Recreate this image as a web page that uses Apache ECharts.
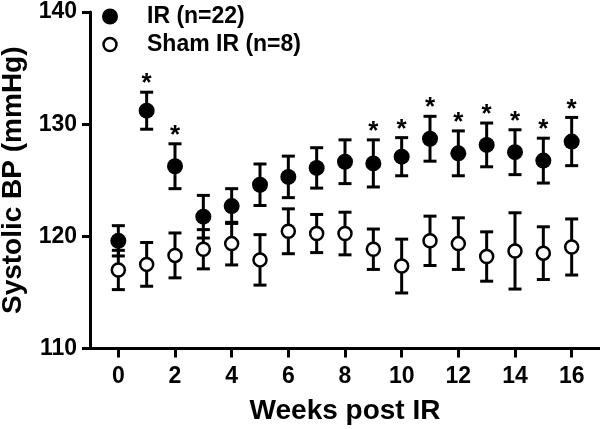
<!DOCTYPE html>
<html>
<head>
<meta charset="utf-8">
<script src="https://cdn.jsdelivr.net/npm/echarts@6/dist/echarts.min.js"></script>
<style>
html,body{margin:0;padding:0;background:#fff;}
#chart{width:600px;height:429px;}
</style>
</head>
<body>
<div id="chart"></div>
<script>
const weeks = [0,1,2,3,4,5,6,7,8,9,10,11,12,13,14,15,16];
const xTicks = [0,2,4,6,8,10,12,14,16];
const yTicks = [110,120,130,140];
const irName = 'IR (n=22)';
const shamName = 'Sham IR (n=8)';
const irMean = [119.6,131.2,126.25,121.75,122.7,124.6,125.3,126.1,126.65,126.5,127.1,128.7,127.4,128.15,127.5,126.75,128.45];
const irSem  = [1.35,1.65,2.0,1.9,1.55,1.85,1.85,1.8,1.95,2.1,1.7,2.0,2.0,1.95,2.0,2.0,2.15];
const irSig  = [0,1,1,0,0,0,0,0,0,1,1,1,1,1,1,1,1];
const shamMean = [117.0,117.5,118.3,118.85,119.35,117.9,120.45,120.25,120.25,118.85,117.35,119.6,119.35,118.2,118.7,118.5,119.05];
const shamSem  = [1.75,1.95,2.0,1.75,1.9,2.25,2.0,1.7,1.9,1.8,2.4,2.2,2.3,2.2,3.4,2.35,2.5];
const shamSig  = weeks.map(() => 0);

const FONT = 'Liberation Sans, Arial, sans-serif';

function bars(mean, sem, sig) {
  return weeks.map((w, i) => [w, mean[i] - sem[i], mean[i] + sem[i], sig[i]]);
}
function points(mean) {
  return weeks.map((w, i) => [w, mean[i]]);
}

function renderErr(params, api) {
  const x = api.value(0), lo = api.value(1), hi = api.value(2), sig = api.value(3);
  const t = api.coord([x, hi]);
  const b = api.coord([x, lo]);
  const hw = 6.5;
  const st = {stroke: '#000', lineWidth: 3, fill: null, lineCap: 'butt'};
  const children = [
    {type: 'line', shape: {x1: t[0], y1: t[1], x2: b[0], y2: b[1]}, style: st},
    {type: 'line', shape: {x1: t[0] - hw, y1: t[1], x2: t[0] + hw, y2: t[1]}, style: st},
    {type: 'line', shape: {x1: b[0] - hw, y1: b[1], x2: b[0] + hw, y2: b[1]}, style: st}
  ];
  if (sig) {
    children.push({
      type: 'text', x: t[0], y: t[1] - 8,
      style: {text: '*', fontSize: 26, fontWeight: 'bold', fontFamily: FONT, fill: '#000', align: 'center', verticalAlign: 'middle'}
    });
  }
  return {type: 'group', children: children};
}

const chart = echarts.init(document.getElementById('chart'), null, {renderer: 'canvas'});
chart.setOption({
  animation: false,
  backgroundColor: '#fff',
  textStyle: {fontFamily: FONT},
  grid: {left: 90, right: 0, top: 12, bottom: 80.5, containLabel: false, outerBoundsMode: 'none'},
  legend: {
    orient: 'vertical', left: 102, top: 5, padding: 0, itemGap: 5,
    itemWidth: 16, itemHeight: 13,
    textStyle: {fontSize: 23, fontWeight: 'bold', color: '#000', fontFamily: FONT, padding: [0, 0, 0, 24]},
    data: [
      {name: irName, icon: 'circle', itemStyle: {color: '#000', borderColor: '#000', borderWidth: 3}},
      {name: shamName, icon: 'circle', itemStyle: {color: '#fff', borderColor: '#000', borderWidth: 2.5}}
    ],
    selectedMode: false
  },
  xAxis: {
    type: 'value', min: -1, max: 17,
    name: 'Weeks post IR', nameLocation: 'middle', nameGap: 49,
    nameTextStyle: {fontSize: 28, fontWeight: 'bold', color: '#000', fontFamily: FONT},
    axisLine: {show: true, onZero: false, lineStyle: {color: '#000', width: 3}},
    axisTick: {show: true, customValues: xTicks, length: 9, lineStyle: {color: '#000', width: 3}},
    axisLabel: {customValues: xTicks, fontSize: 23, fontWeight: 'bold', color: '#000', margin: 17, fontFamily: FONT},
    splitLine: {show: false}
  },
  yAxis: {
    type: 'value', min: 110, max: 140, interval: 10,
    name: 'Systolic BP (mmHg)', nameLocation: 'middle', nameGap: 62,
    nameTextStyle: {fontSize: 28, fontWeight: 'bold', color: '#000', fontFamily: FONT},
    axisLine: {show: true, onZero: false, lineStyle: {color: '#000', width: 3}},
    axisTick: {show: true, length: 8, lineStyle: {color: '#000', width: 3}},
    axisLabel: {fontSize: 23, fontWeight: 'bold', color: '#000', margin: 13, fontFamily: FONT},
    splitLine: {show: false}
  },
  series: [
    {type: 'custom', name: 'irErr', renderItem: renderErr, data: bars(irMean, irSem, irSig),
     encode: {x: 0, y: [1, 2]}, z: 2, clip: false, silent: true},
    {type: 'scatter', name: irName, data: points(irMean), symbol: 'circle', symbolSize: 16,
     itemStyle: {color: '#000', opacity: 1}, z: 3},
    {type: 'custom', name: 'shamErr', renderItem: renderErr, data: bars(shamMean, shamSem, shamSig),
     encode: {x: 0, y: [1, 2]}, z: 4, clip: false, silent: true},
    {type: 'scatter', name: shamName, data: points(shamMean), symbol: 'circle', symbolSize: 13,
     itemStyle: {color: '#fff', borderColor: '#000', borderWidth: 2.5, opacity: 1}, z: 5}
  ]
});
</script>
</body>
</html>
